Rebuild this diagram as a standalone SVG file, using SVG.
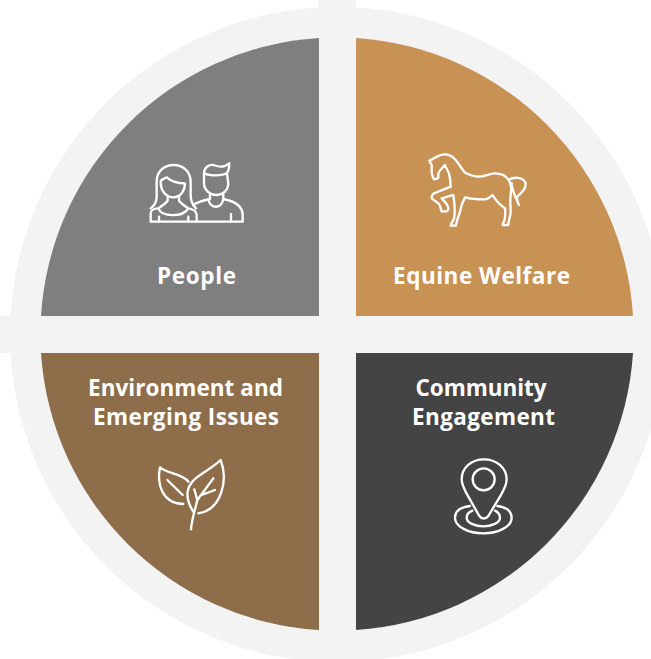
<svg xmlns="http://www.w3.org/2000/svg" width="651" height="659" viewBox="0 0 651 659">
<style>
.t{font-family:"Open Sans","Noto Sans",sans-serif;font-weight:700;font-size:22.500px;fill:#fff;text-anchor:middle}
.i{fill:none;stroke:#fff;stroke-width:7;stroke-linecap:round;stroke-linejoin:round}
</style>
<rect width="651" height="659" fill="#fff"/>
<g id="ring">
<circle cx="337.500" cy="334.500" r="327.500" fill="#f3f3f3"/>
<rect x="318.500" y="0" width="37.500" height="60" fill="#f3f3f3"/>
<rect x="0" y="316" width="60" height="37" fill="#f3f3f3"/>
</g>
<g id="people">
<path d="M319 38A297 297 0 0 0 41 316H319Z" fill="#807f7f"/>
<g transform="translate(130 140) scale(.3333)" class="i">
<path d="M62 205C75 195 80 185 80 170V125C80 92 105 75 130 75C160 75 182 95 182 125V170C183 185 188 195 198 205"/>
<path d="M92 125C92 155 110 172 130 172C152 172 165 152 165 130C150 130 125 125 110 112C100 118 92 118 92 125Z"/>
<path d="M113 170V182C105 192 95 198 85 205C70 205 62 212 62 220V245H338V225C338 195 305 182 280 177V163M240 163V177C225 180 205 185 190 195"/>
<path d="M147 170V182C155 192 165 198 175 205C190 207 200 215 200 225V245M85 205C95 232 160 232 175 205M87 230V245M175 230V245M235 177C240 208 275 208 280 177M303 222V245"/>
<path d="M222 100C222 85 235 72 250 75C265 80 280 85 298 70C298 85 295 95 290 100C275 108 240 108 222 100ZM222 100V130C222 150 240 165 258 165C280 165 295 150 295 130L291 100"/>
</g>
<text class="t" x="196.500" y="284" textLength="79" lengthAdjust="spacing">People</text>
</g>
<g id="equine-welfare">
<path d="M356 38A297 297 0 0 1 633 316H356Z" fill="#c99255"/>
<g transform="translate(410 140) scale(.3333)" class="i">
<path d="M58 62C75 55 85 43 105 43C135 43 148 80 165 98C180 105 190 110 205 110C225 110 240 100 255 100C275 100 290 110 296 120C303 130 305 140 303 155C299 180 302 200 302 215C302 228 296 238 295 255H278C278 247 283 245 284 238C286 225 287 215 285 205C275 198 262 190 248 165C240 172 235 178 225 178C205 178 185 178 165 172C158 185 152 205 150 215C147 228 140 238 138 257H122C123 247 130 245 132 235C136 215 134 190 130 165L95 175C105 185 115 195 115 205C115 210 115 213 110 214H95C90 205 92 195 85 190L65 175C65 168 68 162 72 160L122 140C122 125 120 115 118 105C115 92 108 85 105 75C95 85 85 95 85 102V113C80 118 75 118 72 118C68 110 65 105 65 95V75Z"/>
<path d="M296 120C310 110 340 110 347 130C350 150 325 165 322 170C320 180 323 188 327 195C315 170 305 150 305 130"/>
</g>
<text class="t" x="481.500" y="284" textLength="177" lengthAdjust="spacing">Equine Welfare</text>
</g>
<g id="environment">
<path d="M41 353A297 297 0 0 0 319 630V353Z" fill="#8e6e4a"/>
<text class="t" x="185.500" y="396" textLength="195" lengthAdjust="spacing">Environment and</text>
<text class="t" x="186" y="425" textLength="186" lengthAdjust="spacing">Emerging Issues</text>
<g transform="translate(140 450) scale(.3333)" class="i">
<path d="M145 95C130 70 75 70 60 52C50 100 65 160 130 162M82 90L128 135"/>
<path d="M160 185C150 170 140 150 143 125C150 80 200 70 242 30C265 90 245 180 175 190"/>
<path d="M153 238C155 210 165 180 172 150L220 85M163 118L172 150M185 135L225 120"/>
</g>
</g>
<g id="community">
<path d="M356 353H633A297 297 0 0 1 356 630Z" fill="#444445"/>
<text class="t" x="481" y="396" textLength="131" lengthAdjust="spacing">Community</text>
<text class="t" x="483.500" y="425" textLength="143" lengthAdjust="spacing">Engagement</text>
<g transform="translate(440 450) scale(.3333)" class="i">
<path d="M118 198L85 140C72 118 65 105 65 88C65 52 95 28 132 28C168 28 200 52 200 88C200 105 192 120 180 140L145 198C138 208 125 208 118 198Z"/>
<circle cx="131" cy="88" r="33"/>
<path d="M90 168C60 172 45 185 45 203C45 230 85 250 130 250C175 250 215 230 215 203C215 185 200 172 172 168"/>
<path d="M97 182C85 187 80 195 80 203C80 218 105 229 130 229C155 229 180 218 180 203C180 195 175 187 165 182"/>
</g>
</g>
</svg>
